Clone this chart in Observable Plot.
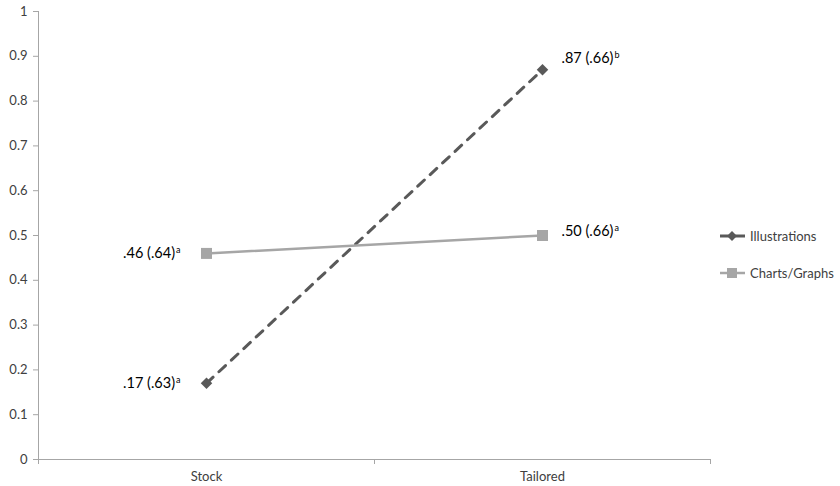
<!DOCTYPE html>
<html>
<head>
<meta charset="utf-8">
<script src="https://cdn.jsdelivr.net/npm/d3@7"></script>
<script src="https://cdn.jsdelivr.net/npm/@observablehq/plot@0.6"></script>
<style>
  body { margin: 0; background: #fff; }
  #wrap { position: relative; width: 840px; height: 486px; font-family: Lato, "Open Sans", sans-serif; }
  #legend { position: absolute; left: 719px; top: 226px; font-size: 13px; color: #404040; }
  .item { display: flex; align-items: center; height: 20px; margin-bottom: 17px; white-space: nowrap; }
  .item svg { margin-right: 4px; }
</style>
</head>
<body>
<div id="wrap"></div>
<script>
const categories = ["Stock", "Tailored"];
const seriesNames = ["Illustrations", "Charts/Graphs"];
const illustrations = [0.17, 0.87];
const illustrationsSD = [0.63, 0.66];
const illustrationsSup = ["a", "b"];
const charts = [0.46, 0.50];
const chartsSD = [0.64, 0.66];
const chartsSup = ["a", "a"];
const yTicks = [0, 0.1, 0.2, 0.3, 0.4, 0.5, 0.6, 0.7, 0.8, 0.9, 1];

const dark = "#595959", light = "#a6a6a6", axisGray = "#a6a6a6", textGray = "#404040";

const fmt = v => v.toFixed(2).replace(/^0/, "");
function rows(vals, sds, sups) {
  return categories.map((c, i) => ({cat: c, pos: i + 0.5, v: vals[i], label: `${fmt(vals[i])} (${fmt(sds[i])})|${sups[i]}`}));
}
const illRows = rows(illustrations, illustrationsSD, illustrationsSup);
const chRows = rows(charts, chartsSD, chartsSup);

function labels(data, dy) {
  return [
    Plot.text(data.filter(d => d.cat === categories[0]), {x: "pos", y: "v", text: "label", textAnchor: "end", dx: -26, dy: dy[0], className: "lbl", fill: "#000", fontSize: 14.5}),
    Plot.text(data.filter(d => d.cat === categories[1]), {x: "pos", y: "v", text: "label", textAnchor: "start", dx: 19, dy: dy[1], className: "lbl", fill: "#000", fontSize: 14.5})
  ];
}

const chart = Plot.plot({
  width: 840,
  height: 486,
  marginLeft: 38,
  marginRight: 130,
  marginTop: 11,
  marginBottom: 27,
  style: {fontFamily: "Lato, 'Open Sans', sans-serif", fontSize: "13px", background: "#fff"},
  x: {domain: [0, categories.length]},
  y: {domain: [0, 1]},
  marks: [
    Plot.ruleY([0], {stroke: axisGray, strokeWidth: 1}),
    Plot.ruleX([0], {stroke: axisGray, strokeWidth: 1}),
    Plot.axisY(yTicks, {tickSize: 5, tickPadding: 6, stroke: axisGray, fill: textGray, label: null, fontSize: 13, tickFormat: d => String(d)}),
    Plot.axisX([0, 1, 2], {tickSize: 5, tickFormat: () => "", stroke: axisGray, label: null}),
    Plot.axisX(categories.map((c, i) => i + 0.5), {tickSize: 0, tickPadding: 12, tickFormat: d => categories[Math.floor(d)], fill: textGray, label: null, fontSize: 13}),
    Plot.line(illRows, {x: "pos", y: "v", stroke: dark, strokeWidth: 3, strokeDasharray: "9,8", strokeLinecap: "round"}),
    Plot.dot(illRows, {x: "pos", y: "v", symbol: "diamond2", r: 5.2, fill: dark, stroke: "none"}),
    Plot.line(chRows, {x: "pos", y: "v", stroke: light, strokeWidth: 2.5}),
    Plot.dot(chRows, {x: "pos", y: "v", symbol: "square", r: 6.2, fill: light, stroke: "none"}),
    ...labels(illRows, [0, -11]),
    ...labels(chRows, [0, -4])
  ]
});

// superscripts
d3.select(chart).selectAll("g.lbl text").each(function() {
  const t = d3.select(this);
  const [main, sup] = t.text().split("|");
  t.text(main);
  t.append("tspan").attr("font-size", 9).attr("dy", -5).attr("dx", 1).text(sup);
});

const wrap = document.getElementById("wrap");
wrap.appendChild(chart);

const legend = document.createElement("div");
legend.id = "legend";
const sw = [
  {name: seriesNames[0], color: dark, sym: `<rect x="9.5" y="2.5" width="7" height="7" transform="rotate(45 13 6)" fill="${dark}"/>`, w: 3},
  {name: seriesNames[1], color: light, sym: `<rect x="8" y="1" width="10" height="10" fill="${light}"/>`, w: 2.5}
];
for (const s of sw) {
  const it = document.createElement("div");
  it.className = "item";
  it.innerHTML = `<svg width="27" height="12"><line x1="1" x2="26" y1="6" y2="6" stroke="${s.color}" stroke-width="${s.w}"/>${s.sym}</svg><span>${s.name}</span>`;
  legend.appendChild(it);
}
wrap.appendChild(legend);
</script>
</body>
</html>
